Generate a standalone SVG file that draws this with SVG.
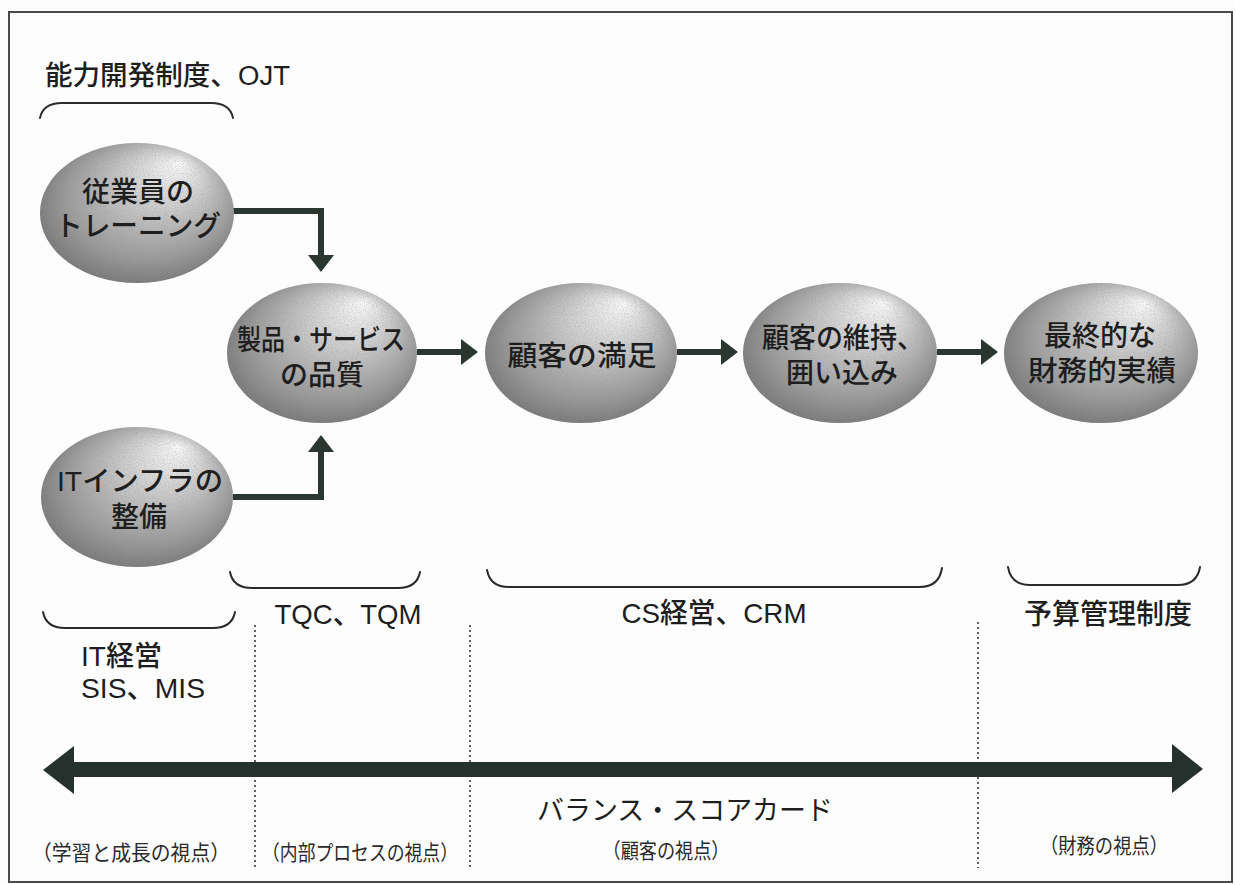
<svg xmlns="http://www.w3.org/2000/svg" width="1235" height="884" viewBox="0 0 1235 884">
  <style>
    .t { font-family: "Liberation Sans", "Noto Sans CJK JP", sans-serif; fill: #1e1e1e; font-weight: 500; }
    .nt { font-size: 28px; text-anchor: middle; }
    .lb { font-size: 28px; }
    .pv { font-size: 21px; text-anchor: middle; fill: #2a2a2a; font-weight: 400; }
    .br { fill: none; stroke: #2b2b2b; stroke-width: 2; stroke-linecap: round; }
    .dot { fill: none; stroke: #3a3a3a; stroke-width: 1.6; stroke-dasharray: 2 3; }
    .conn { fill: none; stroke: #2b3631; stroke-width: 6; }
    .egg { fill: url(#eggGrad); filter: url(#grain); }
  </style>
  <defs>
    <radialGradient id="eggGrad" cx="0.5" cy="0.5" r="0.62" fx="0.72" fy="0.14">
      <stop offset="0" stop-color="#fafafa"/>
      <stop offset="0.3" stop-color="#d2d2d2"/>
      <stop offset="0.7" stop-color="#9a9a9a"/>
      <stop offset="1" stop-color="#636363"/>
    </radialGradient>
    <filter id="grain" x="0" y="0" width="100%" height="100%">
      <feTurbulence type="fractalNoise" baseFrequency="0.9" numOctaves="2" seed="4" result="n"/>
      <feColorMatrix in="n" type="matrix" values="0 0 0 0 0.3  0 0 0 0 0.3  0 0 0 0 0.3  1.0 0 0 0 -0.4" result="g"/>
      <feComposite in="g" in2="SourceGraphic" operator="in" result="gi"/>
      <feMerge><feMergeNode in="SourceGraphic"/><feMergeNode in="gi"/></feMerge>
    </filter>
    <marker id="ah" markerUnits="userSpaceOnUse" markerWidth="17" markerHeight="26" refX="0" refY="13" orient="auto">
      <path d="M0,0 L17,13 L0,26 Z" fill="#2b3631"/>
    </marker>
  </defs>

  <rect x="0" y="0" width="1235" height="884" fill="#fdfdfd"/>
  <rect id="frame" x="9" y="12" width="1223" height="870" fill="none" stroke="#4a4a4a" stroke-width="2"/>

  <!-- dotted separators -->
  <g id="separators">
    <line class="dot" x1="255" y1="625" x2="255" y2="868"/>
    <line class="dot" x1="470" y1="625" x2="470" y2="868"/>
    <line class="dot" x1="978" y1="622" x2="978" y2="868"/>
  </g>

  <!-- connectors -->
  <g id="connectors">
    <path class="conn" d="M233,211 H321 V255" marker-end="url(#ah)"/>
    <path class="conn" d="M233,497 H321 V452" marker-end="url(#ah)"/>
    <path class="conn" d="M417,352 H461" marker-end="url(#ah)"/>
    <path class="conn" d="M677,352 H721" marker-end="url(#ah)"/>
    <path class="conn" d="M937,352 H981" marker-end="url(#ah)"/>
  </g>

  <!-- nodes -->
  <g id="node-training">
    <ellipse class="egg" cx="137" cy="213" rx="97" ry="70"/>
    <text class="t nt" x="138" y="202">従業員の</text>
    <text class="t nt" x="138" y="236" textLength="166" lengthAdjust="spacingAndGlyphs">トレーニング</text>
  </g>
  <g id="node-quality">
    <ellipse class="egg" cx="322" cy="353" rx="95" ry="70"/>
    <text class="t nt" x="321" y="350" textLength="168" lengthAdjust="spacingAndGlyphs">製品・サービス</text>
    <text class="t nt" x="322" y="385">の品質</text>
  </g>
  <g id="node-it">
    <ellipse class="egg" cx="137" cy="497" rx="96" ry="70"/>
    <text class="t nt" x="140" y="491" textLength="166" lengthAdjust="spacingAndGlyphs">ITインフラの</text>
    <text class="t nt" x="139" y="527">整備</text>
  </g>
  <g id="node-satisfaction">
    <ellipse class="egg" cx="581" cy="353" rx="96" ry="70"/>
    <text class="t nt" x="582" y="366" textLength="149" lengthAdjust="spacingAndGlyphs">顧客の満足</text>
  </g>
  <g id="node-retention">
    <ellipse class="egg" cx="840" cy="353" rx="97" ry="70"/>
    <text class="t nt" x="843" y="348" textLength="162" lengthAdjust="spacingAndGlyphs">顧客の維持、</text>
    <text class="t nt" x="842" y="383">囲い込み</text>
  </g>
  <g id="node-financial">
    <ellipse class="egg" cx="1101" cy="353" rx="97" ry="70"/>
    <text class="t nt" x="1100" y="346">最終的な</text>
    <text class="t nt" x="1102" y="381" textLength="148" lengthAdjust="spacingAndGlyphs">財務的実績</text>
  </g>

  <!-- brackets and method labels -->
  <g id="label-ojt">
    <text class="t" x="45" y="85" style="font-size:27px" textLength="245" lengthAdjust="spacingAndGlyphs">能力開発制度、OJT</text>
    <path class="br" d="M40,118 Q43,103 62,103 L211,103 Q230,103 233,118"/>
  </g>
  <g id="label-it">
    <path class="br" d="M43,612 Q46,628 65,628 L213,628 Q232,628 235,612"/>
    <text class="t lb" x="81" y="666">IT経営</text>
    <text class="t lb" x="81" y="698" textLength="124" lengthAdjust="spacingAndGlyphs">SIS、MIS</text>
  </g>
  <g id="label-tqc">
    <path class="br" d="M230,572 Q233,588 252,588 L398,588 Q417,588 420,572"/>
    <text class="t lb" x="348" y="624" text-anchor="middle" textLength="147" lengthAdjust="spacingAndGlyphs">TQC、TQM</text>
  </g>
  <g id="label-cs">
    <path class="br" d="M487,570 Q490,587 509,587 L920,587 Q939,587 942,568"/>
    <text class="t lb" x="714" y="623" text-anchor="middle" textLength="185" lengthAdjust="spacingAndGlyphs">CS経営、CRM</text>
  </g>
  <g id="label-budget">
    <path class="br" d="M1008,567 Q1011,585 1030,585 L1178,585 Q1197,585 1200,567"/>
    <text class="t lb" x="1108" y="624" text-anchor="middle">予算管理制度</text>
  </g>

  <!-- balanced scorecard double arrow -->
  <g id="bsc-arrow">
    <rect x="70" y="762" width="1106" height="15" fill="#26302c"/>
    <polygon points="43,770 74,746 74,794" fill="#26302c"/>
    <polygon points="1203,769 1172,744 1172,793" fill="#26302c"/>
    <text class="t" x="685" y="820" text-anchor="middle" style="font-size:27px;font-weight:400" textLength="296" lengthAdjust="spacingAndGlyphs">バランス・スコアカード</text>
  </g>

  <!-- perspectives -->
  <g id="perspectives">
    <text class="t pv" x="131" y="860" textLength="198" lengthAdjust="spacingAndGlyphs">（学習と成長の視点）</text>
    <text class="t pv" x="360" y="860" textLength="196" lengthAdjust="spacingAndGlyphs">（内部プロセスの視点）</text>
    <text class="t pv" x="666" y="858" textLength="127" lengthAdjust="spacingAndGlyphs">（顧客の視点）</text>
    <text class="t pv" x="1104" y="853" textLength="128" lengthAdjust="spacingAndGlyphs">（財務の視点）</text>
  </g>
</svg>
